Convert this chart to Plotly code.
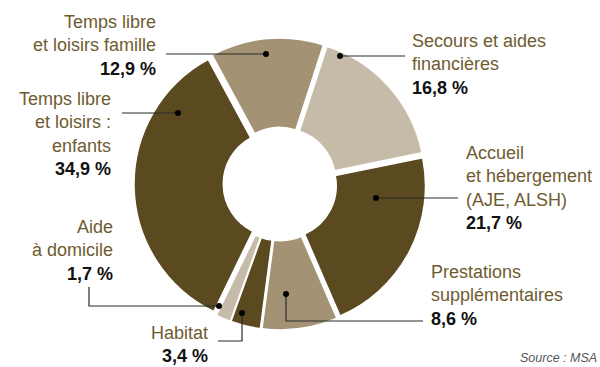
import plotly.graph_objects as go

# ---- data ----
categories = [
    "Secours et aides financières",
    "Accueil et hébergement (AJE, ALSH)",
    "Prestations supplémentaires",
    "Habitat",
    "Aide à domicile",
    "Temps libre et loisirs : enfants",
    "Temps libre et loisirs famille",
]
values = [16.8, 21.7, 8.6, 3.4, 1.7, 34.9, 12.9]
value_labels = ["16,8 %", "21,7 %", "8,6 %", "3,4 %", "1,7 %", "34,9 %", "12,9 %"]
label_lines = [
    "Secours et aides<br>financières",
    "Accueil<br>et hébergement<br>(AJE, ALSH)",
    "Prestations<br>supplémentaires",
    "Habitat",
    "Aide<br>à domicile",
    "Temps libre<br>et loisirs :<br>enfants",
    "Temps libre<br>et loisirs famille",
]

# ---- style ----
W, H = 600, 367
DARK = "#5b4a20"
MED = "#a39274"
LIGHT = "#c6bba8"
slice_colors = [LIGHT, DARK, MED, DARK, LIGHT, DARK, MED]
TXT = "#6e5b30"
LINE = "#2a2a2a"
FONT = "Liberation Sans, Arial, sans-serif"

cx, cy, R = 280, 184, 146  # pixel centre & outer extent of pie


def px(x):
    return x / W


def py(y):
    return 1 - y / H


fig = go.Figure(
    go.Pie(
        labels=categories,
        values=values,
        sort=False,
        direction="clockwise",
        rotation=18,
        hole=0.37,
        pull=[0.03] * len(values),
        marker=dict(colors=slice_colors, line=dict(color="white", width=1.5)),
        textinfo="none",
        hoverinfo="label+percent",
        showlegend=False,
        domain=dict(x=[px(cx - R), px(cx + R)], y=[py(cy + R), py(cy - R)]),
    )
)

# label layout: (text x, text top y, anchor, align, dot, leader path points)
layout_cfg = [
    dict(x=411, y=30, xa="left", al="left", dot=(340, 56), path=[(340, 56), (405, 56)]),
    dict(x=465, y=142, xa="left", al="left", dot=(376, 198), path=[(376, 198), (458, 198)]),
    dict(x=430, y=261, xa="left", al="left", dot=(286, 294), path=[(286, 294), (286, 321), (423, 321)]),
    dict(x=209, y=322, xa="right", al="right", dot=(242, 313), path=[(242, 313), (242, 341), (218, 341)]),
    dict(x=114, y=216, xa="right", al="right", dot=(219, 306), path=[(219, 306), (89, 306), (89, 287)]),
    dict(x=112, y=88, xa="right", al="right", dot=(178, 113), path=[(178, 113), (122, 113)]),
    dict(x=157, y=11, xa="right", al="right", dot=(266, 54), path=[(266, 54), (166, 54)]),
]

shapes = []
annotations = []
for i, cfg in enumerate(layout_cfg):
    pts = cfg["path"]
    d = "M " + " L ".join(f"{px(a)},{py(b)}" for a, b in pts)
    shapes.append(dict(type="path", xref="paper", yref="paper", path=d,
                       line=dict(color=LINE, width=1.2)))
    dx, dy = cfg["dot"]
    r = 3
    shapes.append(dict(type="circle", xref="paper", yref="paper",
                       x0=px(dx - r), x1=px(dx + r), y0=py(dy + r), y1=py(dy - r),
                       fillcolor="black", line=dict(width=0)))
    text = (f"{label_lines[i]}<br><b><span style='color:#111111'>{value_labels[i]}</span></b>")
    annotations.append(dict(
        x=px(cfg["x"]), y=py(cfg["y"]), xref="paper", yref="paper",
        xanchor=cfg["xa"], yanchor="top", align=cfg["al"],
        text=text, showarrow=False, borderpad=0,
        font=dict(family=FONT, size=18, color=TXT),
    ))

annotations.append(dict(
    x=px(598), y=py(366), xref="paper", yref="paper", xanchor="right", yanchor="bottom",
    text="<i>Source : MSA</i>", showarrow=False, borderpad=0,
    font=dict(family=FONT, size=12.5, color="#555555"),
))

fig.update_layout(
    width=W, height=H,
    margin=dict(l=0, r=0, t=0, b=0),
    paper_bgcolor="white", plot_bgcolor="white",
    shapes=shapes, annotations=annotations,
)

fig.write_html(
    "out.html",
    config={"displayModeBar": False},
    post_script="document.body.style.margin='0';document.body.style.padding='0';",
)
